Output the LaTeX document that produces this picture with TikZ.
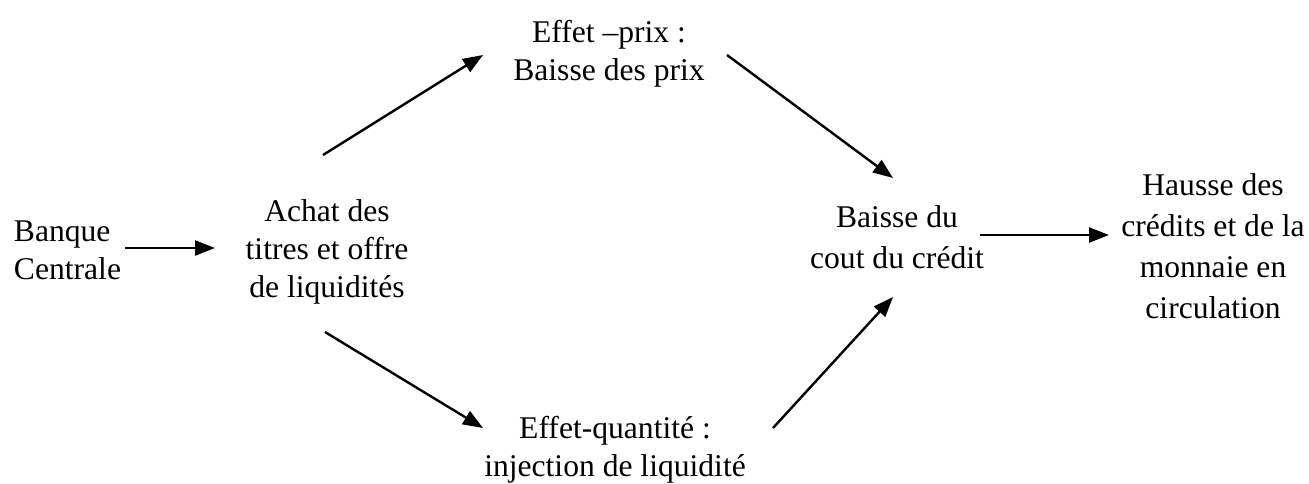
\documentclass[tikz,border=0pt]{standalone}
\usepackage{fontspec}
\setmainfont{Liberation Serif}
\usetikzlibrary{arrows.meta}
\begin{document}
\begin{tikzpicture}[x=0.5pt,y=0.5pt,
  txt/.style={inner sep=0pt,align=center,font=\fontsize{15.8}{19}\selectfont},
  wide/.style={txt,font=\fontsize{15.8}{20.5}\selectfont},
  fl/.style={-{Triangle[length=10pt,width=7.5pt]},line width=1.2pt}]
	\useasboundingbox (0,0) rectangle (1309,483);
	\node[txt,align=left] (bc) at (67.5,232.5) {Banque\\Centrale};
	\node[txt] (achat) at (327,231) {Achat des\\titres et offre\\de liquidités};
	\node[txt] (prix) at (609,429) {Effet –prix :\\Baisse des prix};
	\node[txt] (qte) at (615,33.5) {Effet-quantité :\\injection de liquidité};
	\node[wide] (cout) at (897,246) {Baisse du\\cout du crédit};
	\node[wide] (hausse) at (1213,237) {Hausse des\\crédits et de la\\monnaie en\\circulation};
	% fleches
	\draw[fl] ([shift={(57.5,2.5)}]bc.center) -- ([shift={(-112,4)}]achat.center);
	\draw[fl] ([shift={(-4,97)}]achat.center) -- ([shift={(-126,-1)}]prix.center);
	\draw[fl] ([shift={(-2,-80)}]achat.center) -- ([shift={(-132,21.5)}]qte.center);
	\draw[fl] ([shift={(118,-1)}]prix.center) -- ([shift={(-4,59)}]cout.center);
	\draw[fl] ([shift={(158,21.5)}]qte.center) -- ([shift={(-4,-60)}]cout.center);
	\draw[fl] ([shift={(83,2)}]cout.center) -- ([shift={(-104,11)}]hausse.center);
\end{tikzpicture}
\end{document}
